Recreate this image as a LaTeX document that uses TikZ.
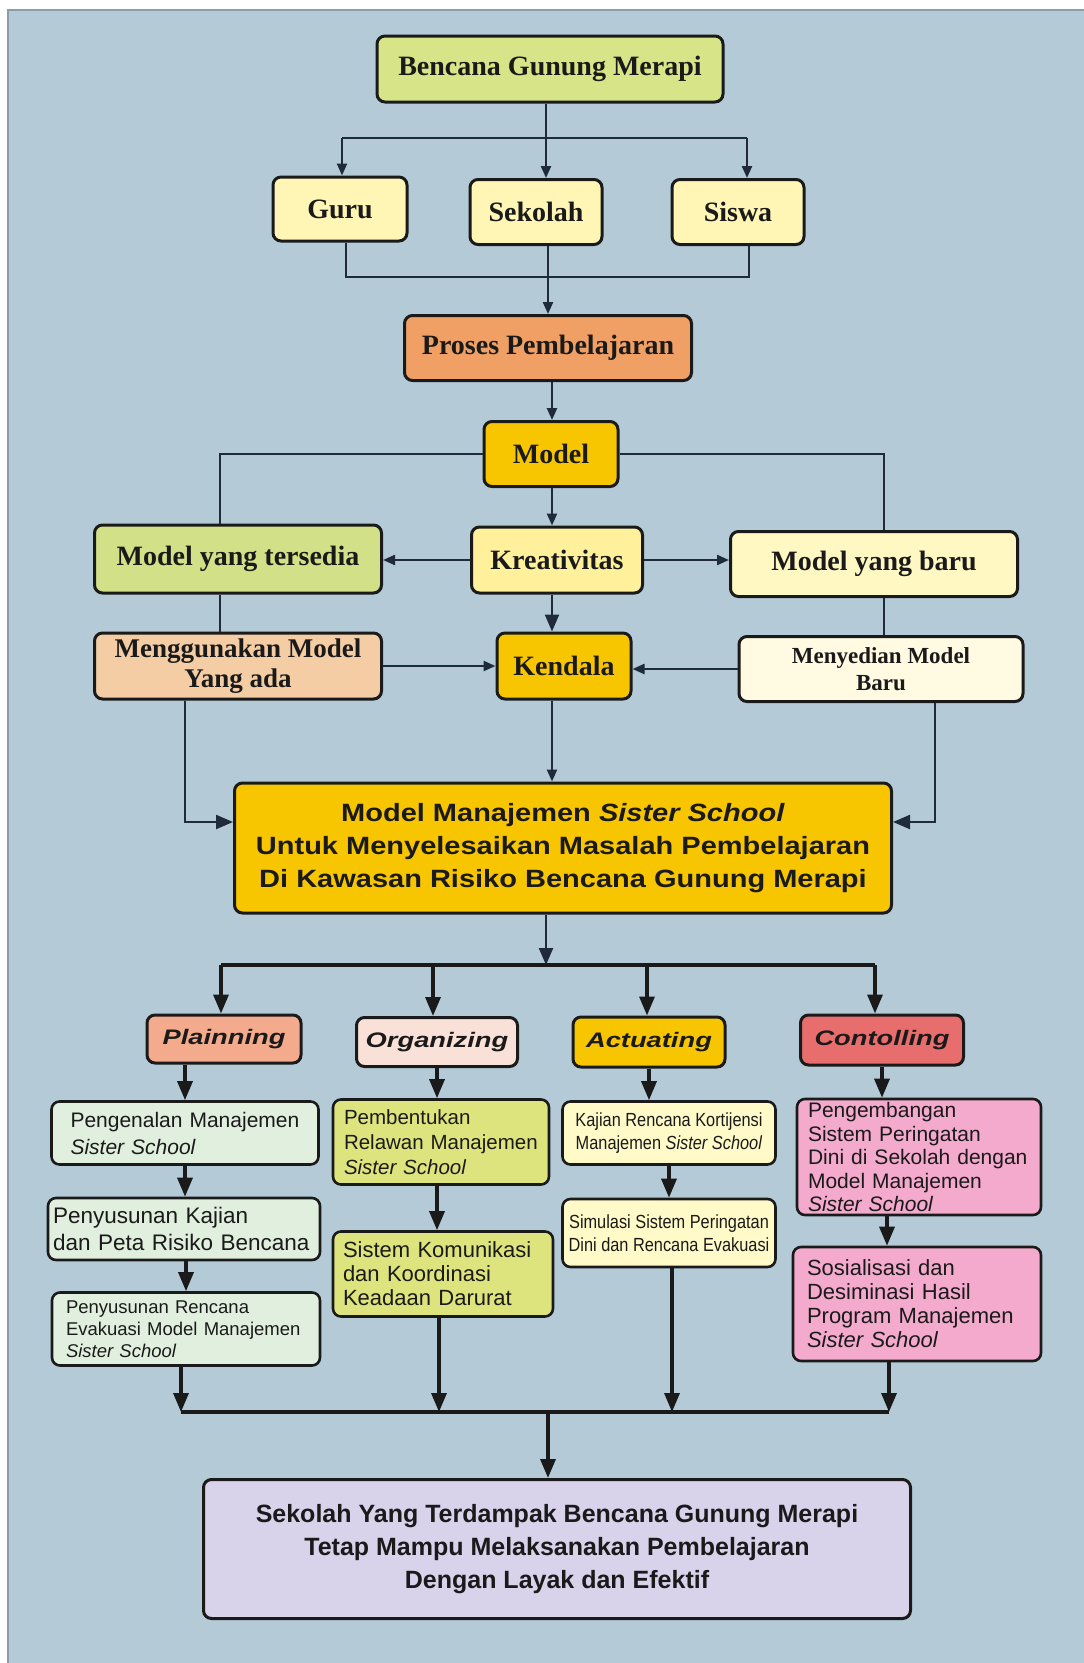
\documentclass[tikz,border=0pt]{standalone}
\usepackage{fontspec}
\setmainfont{Liberation Serif}
\setsansfont{Liberation Sans}
\newfontfamily\widesans[FakeStretch=1.16]{Liberation Sans}
\newfontfamily\phasesans[FakeStretch=1.3]{Liberation Sans}
\newfontfamily\narrowsans[FakeStretch=0.86]{Liberation Sans}
\usetikzlibrary{arrows.meta}

\definecolor{bgblue}{HTML}{B4CBD7}
\definecolor{frame}{HTML}{8C9CA8}
\definecolor{boxline}{HTML}{1A1A1A}
\definecolor{linkc}{HTML}{1F2B3A}
\definecolor{ink}{HTML}{1A1A1A}
\definecolor{limeA}{HTML}{D7E487}
\definecolor{creamA}{HTML}{FFF5B4}
\definecolor{orangeA}{HTML}{F0A064}
\definecolor{goldA}{HTML}{F8C600}
\definecolor{creamB}{HTML}{FFF09B}
\definecolor{limeB}{HTML}{D2E187}
\definecolor{creamC}{HTML}{FFF8C3}
\definecolor{peachA}{HTML}{F5CDA5}
\definecolor{creamD}{HTML}{FFFAE1}
\definecolor{salmonA}{HTML}{F4AA8C}
\definecolor{pinkA}{HTML}{FAE1D7}
\definecolor{redA}{HTML}{E86E6E}
\definecolor{greenA}{HTML}{E1F0DE}
\definecolor{oliveA}{HTML}{DEE47D}
\definecolor{creamE}{HTML}{FFFAC8}
\definecolor{pinkB}{HTML}{F4AACD}
\definecolor{lavA}{HTML}{D8D2EB}

\tikzset{
  box/.style={draw=boxline, line width=3pt, rounded corners=8pt, inner sep=0pt,
    align=center, text=ink},
  serifbox/.style={box, font=\fontsize{28}{32}\selectfont\bfseries},
  phasebox/.style={box, font=\phasesans\fontsize{21}{24}\selectfont\bfseries\itshape},
  subbox/.style={box, line width=2.6pt, align=left},
  link/.style={draw=linkc, line width=2.3pt},
  arr/.style={link, -{Triangle[length=12pt,width=10pt]}},
  arrbig/.style={link, -{Triangle[length=17pt,width=14pt]}},
  link2/.style={draw=boxline, line width=3.3pt},
  arr2/.style={link2, -{Triangle[length=19pt,width=15pt]}},
}

\begin{document}
\begin{tikzpicture}[x=1pt, y=-1pt]
\useasboundingbox (0,0) rectangle (1084,1663);
% page and panel
\fill[white] (0,0) rectangle (1084,1663);
\fill[bgblue] (8,10) rectangle (1084,1663);
\draw[frame, line width=1.2pt] (8,1663) -- (8,10) -- (1084,10);

% ---------- upper part ----------
\node[serifbox, fill=limeA, minimum width=346, minimum height=66] (bencana) at (550,69) {Bencana Gunung Merapi};
\node[serifbox, fill=creamA, minimum width=134, minimum height=64] (guru) at (340,209) {Guru};
\node[serifbox, fill=creamA, minimum width=132, minimum height=65] (sekolah) at (536,212) {Sekolah};
\node[serifbox, fill=creamA, minimum width=132, minimum height=65] (siswa) at (738,212) {Siswa};
\node[serifbox, fill=orangeA, minimum width=287, minimum height=65] (proses) at (548,348) {Proses Pembelajaran};
\node[serifbox, fill=goldA, minimum width=134, minimum height=65] (model) at (551,454) {Model};
\node[serifbox, fill=creamB, minimum width=171, minimum height=66] (kreativitas) at (557,560) {Kreativitas};
\node[serifbox, fill=limeB, minimum width=287, minimum height=68] (tersedia) at (238,559) {Model yang tersedia};
\node[serifbox, fill=creamC, minimum width=287, minimum height=65] (baru) at (874,564) {Model yang baru};
\node[serifbox, fill=goldA, minimum width=134, minimum height=66] (kendala) at (564,666) {Kendala};
\node[serifbox, fill=peachA, minimum width=287, minimum height=66,
      font=\fontsize{27}{30}\selectfont\bfseries] (menggunakan) at (238,666) {Menggunakan Model\\Yang ada};
\node[serifbox, fill=creamD, minimum width=284, minimum height=65,
      font=\fontsize{23}{27}\selectfont\bfseries] (menyedian) at (881,669) {Menyedian Model\\Baru};
\node[box, fill=goldA, minimum width=657, minimum height=130,
      font=\widesans\fontsize{25}{33}\selectfont\bfseries] (main) at (563,848)
      {Model Manajemen \textit{Sister School}\\Untuk Menyelesaikan Masalah Pembelajaran\\Di Kawasan Risiko Bencana Gunung Merapi};

% junction points of the upper connectors
\coordinate (t0) at (546,138);
\coordinate (tg) at (342,138);
\coordinate (ts) at (747,138);
\coordinate (mg) at (346,277);
\coordinate (ms) at (749,277);
\coordinate (mid) at (548,0);
\coordinate (sp) at (552,0);
\coordinate (xl) at (220,0);
\coordinate (xr) at (884,0);
\coordinate (ml) at (185,822);
\coordinate (mr) at (935,822);

\draw[link] (bencana.south -| t0) -- (t0);
\draw[link] (tg) -- (ts);
\draw[arr] (tg) -- (guru.north -| tg);
\draw[arr] (t0) -- (sekolah.north -| t0);
\draw[arr] (ts) -- (siswa.north -| ts);
\draw[link] (guru.south -| mg) |- (ms) -- (siswa.south -| ms);
\draw[arr] (sekolah.south -| mid) -- (proses.north -| mid);
\draw[arr] (proses.south -| sp) -- (model.north -| sp);
\draw[link] (model.west) -| (tersedia.north -| xl);
\draw[link] (model.east) -| (baru.north -| xr);
\draw[arr] (model.south -| sp) -- (kreativitas.north -| sp);
\draw[arr] (kreativitas.west) -- (kreativitas.west -| tersedia.east);
\draw[arr] (kreativitas.east) -- (kreativitas.east -| baru.west);
\draw[arrbig] (kreativitas.south -| sp) -- (kendala.north -| sp);
\draw[link] (tersedia.south -| xl) -- (menggunakan.north -| xl);
\draw[link] (baru.south -| xr) -- (menyedian.north -| xr);
\draw[arr] (menggunakan.east) -- (menggunakan.east -| kendala.west);
\draw[arr] (menyedian.west) -- (menyedian.west -| kendala.east);
\draw[arr] (kendala.south -| sp) -- (main.north -| sp);
\draw[arrbig] (menggunakan.south -| ml) |- (main.west |- ml);
\draw[arrbig] (menyedian.south -| mr) |- (main.east |- mr);

% ---------- management functions ----------
\node[phasebox, fill=salmonA, minimum width=154, minimum height=48] (plan) at (224,1039) {Plainning};
\node[phasebox, fill=pinkA, minimum width=161, minimum height=49] (org) at (437,1042) {Organizing};
\node[phasebox, fill=goldA, minimum width=152, minimum height=50] (act) at (649,1042) {Actuating};
\node[phasebox, fill=redA, minimum width=163, minimum height=50] (ctrl) at (882,1040) {Contolling};

\coordinate (h0) at (546,965);
\coordinate (hp) at (221,965);
\coordinate (ho) at (433,965);
\coordinate (ha) at (647,965);
\coordinate (hc) at (875,965);
\draw[arrbig] (main.south -| h0) -- (h0);
\draw[link2] (hp) -- (hc);
\draw[arr2] (hp) -- (plan.north -| hp);
\draw[arr2] (ho) -- (org.north -| ho);
\draw[arr2] (ha) -- (act.north -| ha);
\draw[arr2] (hc) -- (ctrl.north -| hc);

% Planning column
\node[subbox, fill=greenA, text width=229, inner xsep=19, minimum height=63,
      font=\sffamily\fontsize{21}{27}\selectfont] (p1) at (185,1133)
      {Pengenalan Manajemen\\\textit{Sister School}};
\node[subbox, fill=greenA, text width=262, inner xsep=5, minimum height=62,
      font=\sffamily\fontsize{22.5}{27}\selectfont] (p2) at (184,1229)
      {Penyusunan Kajian\\dan Peta Risiko Bencana};
\node[subbox, fill=greenA, text width=240, inner xsep=14, minimum height=73,
      font=\sffamily\fontsize{18.5}{22}\selectfont] (p3) at (186,1329)
      {Penyusunan Rencana\\Evakuasi Model Manajemen\\\textit{Sister School}};

% Organizing column
\node[subbox, fill=oliveA, text width=194, inner xsep=11, minimum height=85,
      font=\sffamily\fontsize{20.5}{25}\selectfont] (o1) at (441,1142)
      {Pembentukan\\Relawan Manajemen\\\textit{Sister School}};
\node[subbox, fill=oliveA, text width=200, inner xsep=10, minimum height=85,
      font=\sffamily\fontsize{22}{24}\selectfont] (o2) at (443,1274)
      {Sistem Komunikasi\\dan Koordinasi\\Keadaan Darurat};

% Actuating column
\node[subbox, align=center, fill=creamE, minimum width=213, minimum height=63,
      font=\narrowsans\fontsize{19}{23}\selectfont] (a1) at (669,1133)
      {Kajian Rencana Kortijensi\\Manajemen \textit{Sister School}};
\node[subbox, align=center, fill=creamE, minimum width=213, minimum height=68,
      font=\narrowsans\fontsize{19}{23}\selectfont] (a2) at (669,1233)
      {Simulasi Sistem Peringatan\\Dini dan Rencana Evakuasi};

% Controlling column
\node[subbox, fill=pinkB, text width=222, inner xsep=11, minimum height=116,
      font=\sffamily\fontsize{21}{23.5}\selectfont] (c1) at (919,1157)
      {Pengembangan\\Sistem Peringatan\\Dini di Sekolah dengan\\Model Manajemen\\\textit{Sister School}};
\node[subbox, fill=pinkB, text width=220, inner xsep=14, minimum height=114,
      font=\sffamily\fontsize{22}{24}\selectfont] (c2) at (917,1304)
      {Sosialisasi dan\\Desiminasi Hasil\\Program Manajemen\\\textit{Sister School}};

\coordinate (cx) at (887,0);
\draw[arr2] (p1.north |- plan.south) -- (p1.north);
\draw[arr2] (p1.south) -- (p1.south |- p2.north);
\draw[arr2] (p3.north |- p2.south) -- (p3.north);
\draw[arr2] (org.south) -- (org.south |- o1.north);
\draw[arr2] (org.south |- o1.south) -- (org.south |- o2.north);
\draw[arr2] (act.south) -- (act.south |- a1.north);
\draw[arr2] (a1.south) -- (a2.north);
\draw[arr2] (ctrl.south) -- (ctrl.south |- c1.north);
\draw[arr2] (c1.south -| cx) -- (c2.north -| cx);

% ---------- outcome ----------
\node[box, fill=lavA, minimum width=707, minimum height=139,
      font=\sffamily\fontsize{25}{33}\selectfont\bfseries] (final) at (557,1549)
      {Sekolah Yang Terdampak Bencana Gunung Merapi\\Tetap Mampu Melaksanakan Pembelajaran\\Dengan Layak dan Efektif};

\coordinate (b1) at (181,1412);
\coordinate (b2) at (439,1412);
\coordinate (b3) at (672,1412);
\coordinate (b4) at (889,1412);
\coordinate (bm) at (548,1412);
\draw[arr2] (p3.south -| b1) -- (b1);
\draw[arr2] (o2.south -| b2) -- (b2);
\draw[arr2] (a2.south -| b3) -- (b3);
\draw[arr2] (c2.south -| b4) -- (b4);
\draw[link2] (b1) -- (b4);
\draw[arr2] (bm) -- (final.north -| bm);
\end{tikzpicture}
\end{document}
